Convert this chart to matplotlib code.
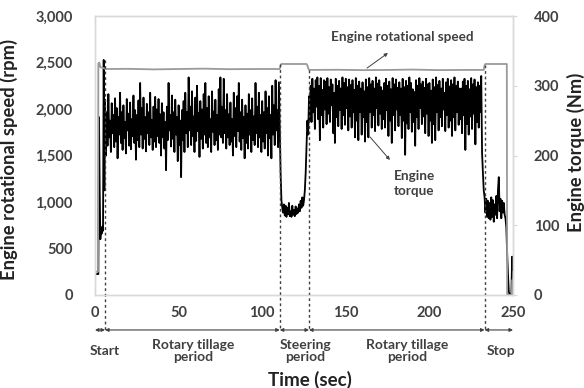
import numpy as np
import matplotlib
matplotlib.use("Agg")
import matplotlib.pyplot as plt

# =============================================================================
# Engine speed / torque record of a tractor during rotary tillage
# values (torque in Nm, speed in rpm, time in sec)
# =============================================================================

# start-up
t_start = [0, 1, 2, 2.4, 2.8, 3.2, 3.6, 4, 4.4, 4.8, 5.2, 5.6, 6, 6.5]
torque_start = [30, 30, 30, 255, 150, 80, 95, 88, 98, 92, 337, 150, 280, 200]

# first rotary tillage period, 0.5 s samples from t=7
torque_till1 = [262, 214, 288, 226, 250, 205, 275, 232, 258, 212, 282, 220, 268, 196, 255, 230, 290, 218, 262, 208,
                272, 225, 248, 203, 281, 236, 260, 214, 276, 209, 252, 228, 286, 218, 265, 194, 258, 222, 279, 212,
                304, 230, 268, 210, 283, 224, 255, 206, 274, 232, 262, 215, 290, 226, 251, 208, 270, 220, 284, 212,
                266, 228, 281, 218, 259, 200, 275, 226, 262, 210, 248, 179, 270, 222, 304, 236, 258, 213, 286, 224,
                262, 205, 280, 230, 255, 192, 272, 215, 250, 169, 265, 222, 278, 205, 290, 232, 262, 212, 312, 236,
                270, 215, 292, 228, 256, 205, 283, 221, 300, 235, 261, 198, 278, 224, 266, 210, 288, 230, 304, 218,
                268, 212, 285, 226, 252, 205, 292, 234, 263, 215, 280, 222, 258, 208, 295, 230, 312, 226, 270, 218,
                310, 232, 265, 210, 288, 226, 259, 215, 276, 220, 252, 200, 290, 228, 268, 212, 285, 235, 304, 220,
                262, 208, 280, 225, 255, 196, 272, 218, 260, 210, 288, 230, 265, 205, 282, 222, 256, 215, 304, 232,
                270, 212, 290, 226, 258, 205, 278, 220, 262, 210, 292, 232, 268, 200, 285, 225, 258, 196, 300, 230,
                272, 215, 308, 236, 265, 212, 305]

# steering period, 0.5 s samples from t=110.5
torque_steer = [240, 175, 136, 125, 118, 130, 114, 128, 112, 125,
                116, 132, 113, 120, 112, 128, 115, 122, 113, 127,
                116, 124, 118, 130, 120, 135, 125, 140, 128, 136,
                150, 175, 215, 250, 230, 285, 250]

# second rotary tillage period, 0.5 s samples from t=129
torque_till2 = [300, 248, 310, 262, 296, 238, 308, 270, 312, 252, 300, 222, 311, 258, 294, 240, 308, 266, 306, 245,
                311, 260, 298, 248, 309, 272, 302, 232, 290, 218, 310, 255, 300, 242, 307, 265, 296, 238, 312, 258,
                304, 244, 310, 268, 298, 236, 309, 256, 301, 240, 308, 262, 294, 226, 311, 250, 300, 222, 306, 262,
                296, 230, 305, 255, 292, 220, 309, 248, 298, 226, 311, 262, 302, 240, 307, 258, 296, 235, 312, 268,
                303, 243, 308, 260, 298, 238, 293, 252, 304, 240, 310, 265, 300, 228, 306, 250, 295, 218, 311, 258,
                302, 236, 309, 266, 297, 242, 305, 258, 296, 225, 310, 250, 298, 201, 307, 246, 300, 238, 312, 262,
                304, 234, 295, 248, 291, 214, 308, 255, 300, 238, 311, 268, 302, 245, 306, 256, 297, 232, 310, 260,
                302, 228, 304, 250, 293, 218, 309, 245, 298, 222, 312, 262, 301, 236, 307, 255, 296, 242, 310, 266,
                290, 235, 305, 258, 310, 240, 299, 250, 308, 228, 302, 255, 312, 236, 300, 262, 306, 244, 296, 252,
                296, 232, 306, 258, 310, 208, 300, 245, 307, 230, 295, 256, 311, 238, 302, 260, 309, 216, 298, 248,
                305, 240, 300, 262, 314]

# stop, 0.5 s samples from t=231.5
torque_stop = [204, 175, 150, 140, 118, 138, 112, 135, 110, 132,
               108, 140, 112, 136, 105, 130, 115, 142, 110, 150,
               169, 120, 138, 110, 135, 118, 132, 115, 110, 97,
               60, 30, 5, 0, 0, 0, 55, 36]

t_speed = [0, 1.8, 2.0, 2.6, 3.2, 5, 6.5, 20, 35, 50, 65, 80, 95, 110.5,
           111, 111.5, 126.5, 127, 127.5, 128, 145, 160, 175, 190, 205, 220,
           232.5, 233, 233.5, 246.3, 246.5, 249.3, 249.5, 250]
speed = [250, 250, 2490, 2500, 2450, 2440, 2430, 2432, 2426, 2430, 2434, 2428,
         2430, 2430, 2470, 2484, 2484, 2470, 2440, 2420, 2422, 2418, 2420,
         2424, 2418, 2420, 2420, 2470, 2484, 2484, 0, 0, 160, 160]

# period borders (sec) and top of the dashed marker (rpm)
borders = [6, 110.5, 128, 233]
border_top = [2527, 2484, 2420, 2470]
period_edges = [0, 6, 110.5, 128, 233, 250]
period_names = ["Start", "Rotary tillage\nperiod", "Steering\nperiod",
                "Rotary tillage\nperiod", "Stop"]
period_x = [6, 58.6, 126, 187, 243]

t_till1 = list(7 + 0.5 * np.arange(len(torque_till1)))
t_steer = list(110.5 + 0.5 * np.arange(len(torque_steer)))
t_till2 = list(129 + 0.5 * np.arange(len(torque_till2)))
t_stop = list(231.5 + 0.5 * np.arange(len(torque_stop)))

t_torque = t_start + t_till1 + t_steer + t_till2 + t_stop
torque = torque_start + torque_till1 + torque_steer + torque_till2 + torque_stop

plt.rcParams['font.family'] = ['Lato', 'DejaVu Sans']
plt.rcParams['font.weight'] = 'bold'
txt = '#404040'
frame = '#d9d9d9'

fig = plt.figure(figsize=(5.84, 3.88), dpi=100)
ax = fig.add_axes([95/584, 1-295/388, 418/584, 279/388])
ax2 = ax.twinx()

ax2.plot(t_torque, torque, color='black', lw=1.3)
ax.plot(t_speed, speed, color='#9a9a9a', lw=1.3)
ax.set_zorder(ax2.get_zorder() + 1)
ax.patch.set_visible(False)

ax.set_xlim(0, 250)
ax.set_ylim(0, 3000)
ax2.set_ylim(0, 400)
ax.set_xticks([0, 50, 100, 150, 200, 250])
ax.set_yticks(range(0, 3001, 500))
ax.set_yticklabels([f"{v:,}" for v in range(0, 3001, 500)])
ax2.set_yticks(range(0, 401, 100))

for a in (ax, ax2):
    for s in a.spines.values():
        s.set_color(frame)
        s.set_linewidth(1.0)
ax.tick_params(axis='x', length=0, pad=8, labelsize=10.5, labelcolor=txt)
ax.tick_params(axis='y', length=0, pad=16, labelsize=10.5, labelcolor=txt)
ax2.tick_params(axis='y', length=3, color=frame, pad=12, labelsize=10.5,
                labelcolor=txt)

# dashed period borders, running below the axis
y_arrow = -376
for b, top in zip(borders, border_top):
    ax.plot([b, b], [top, y_arrow], ls=(0, (2, 2)), color='#404040', lw=1.0,
            clip_on=False)

for i in range(len(period_names)):
    ax.annotate('', xy=(period_edges[i + 1], y_arrow),
                xytext=(period_edges[i], y_arrow),
                arrowprops=dict(arrowstyle='<|-|>', color='#404040', lw=0.8,
                                mutation_scale=5, shrinkA=0, shrinkB=0),
                annotation_clip=False)
    ax.text(period_x[i], -0.202, period_names[i], transform=ax.get_xaxis_transform(),
            ha='center', va='center', fontsize=10, color=txt,
            linespacing=1.0)

ax.text(128.6, -0.305, "Time (sec)", transform=ax.get_xaxis_transform(),
        ha='center', va='center', fontsize=13.5, color='#222222')
fig.text(9/584, 1-160/388, "Engine rotational speed (rpm)", rotation=90,
         ha='center', va='center', fontsize=13.2, color='#222222')
fig.text(576/584, 1-152/388, "Engine torque (Nm)", rotation=90,
         ha='center', va='center', fontsize=13.2, color='#222222')

# labels of the two curves
ax.text(183.9, 2774, "Engine rotational speed", ha='center', va='center',
        fontsize=9.7, color=txt)
ax.annotate('', xy=(175.2, 2602), xytext=(162.7, 2440),
            arrowprops=dict(arrowstyle='-|>', color='#404040', lw=0.7,
                            mutation_scale=5, shrinkA=0, shrinkB=0))
ax.text(190.8, 1194, "Engine\ntorque", ha='center', va='center',
        fontsize=9.7, color=txt, linespacing=1.3)
ax.annotate('', xy=(176.4, 1452), xytext=(164.5, 1699),
            arrowprops=dict(arrowstyle='-|>', color='#404040', lw=0.7,
                            mutation_scale=5, shrinkA=0, shrinkB=0))

fig.savefig('out.png', dpi=100)
